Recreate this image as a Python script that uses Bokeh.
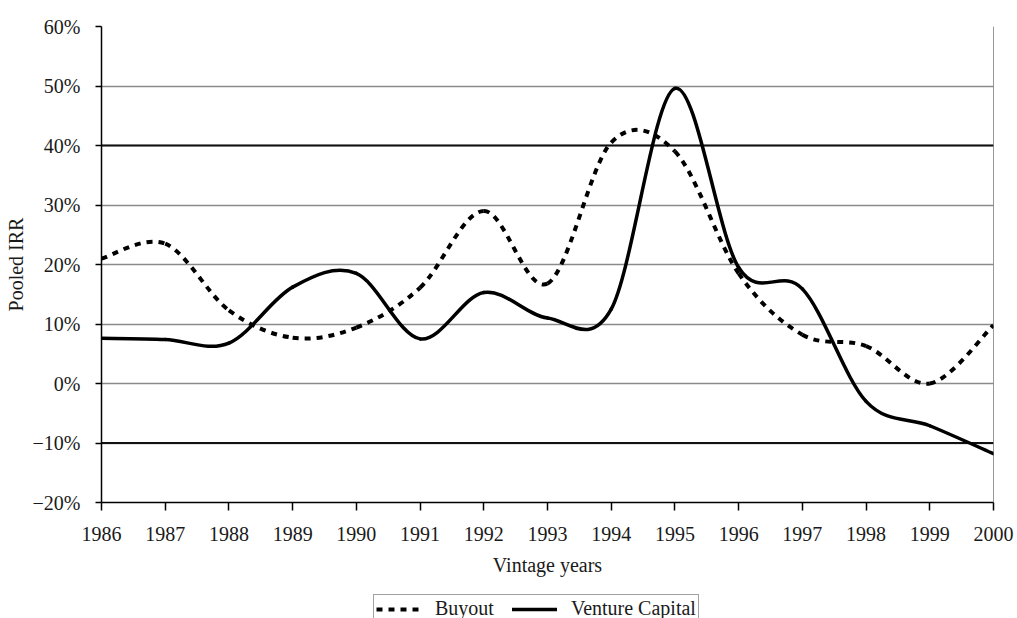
import numpy as np
from bokeh.plotting import figure
from bokeh.layouts import column
from bokeh.models import (FixedTicker, CustomJSTickFormatter, Span, Legend, LegendItem,
                          Range1d, ColumnDataSource)
from bokeh.embed import file_html
from bokeh.resources import INLINE

# ---- data (pooled IRR, %) ----
years = [1986, 1987, 1988, 1989, 1990, 1991, 1992, 1993, 1994, 1995, 1996, 1997, 1998, 1999, 2000]
buyout = [21.0, 23.5, 12.3, 7.7, 9.4, 16.1, 29.0, 16.8, 40.5, 39.0, 18.5, 8.2, 6.3, 0.0, 9.8]
venture = [7.6, 7.4, 6.8, 16.2, 18.5, 7.5, 15.3, 11.0, 12.5, 49.6, 19.5, 15.9, -3.0, -7.1, -11.8]
x_ticks = years
y_ticks = [-20, -10, 0, 10, 20, 30, 40, 50, 60]
series_names = ["Buyout", "Venture Capital"]


def smooth_segments(xs, ys):
    """Cubic Bezier control points (Catmull-Rom, as in spreadsheet 'smoothed line')."""
    xs = np.asarray(xs, float)
    ys = np.asarray(ys, float)
    n = len(xs)
    xp = np.concatenate([[xs[0]], xs, [xs[-1]]])
    yp = np.concatenate([[ys[0]], ys, [ys[-1]]])
    return dict(
        x0=xs[:-1], y0=ys[:-1], x1=xs[1:], y1=ys[1:],
        cx0=xs[:-1] + (xp[2:n + 1] - xp[0:n - 1]) / 6.0,
        cy0=ys[:-1] + (yp[2:n + 1] - yp[0:n - 1]) / 6.0,
        cx1=xs[1:] - (xp[3:n + 2] - xp[1:n]) / 6.0,
        cy1=ys[1:] - (yp[3:n + 2] - yp[1:n]) / 6.0,
    )


FONT = "Liberation Serif"
TXT = "#1a1a1a"
BUYOUT_STYLE = dict(line_color="black", line_width=4, line_dash="6 6", line_cap="butt")
VC_STYLE = dict(line_color="black", line_width=3.5, line_cap="round")

p = figure(width=1017, height=590, output_backend="svg", toolbar_location=None,
           x_range=Range1d(1986, 2000), y_range=Range1d(-20, 60),
           min_border_left=101, min_border_right=24, min_border_top=26, min_border_bottom=88)
p.outline_line_color = None
p.background_fill_color = "white"
p.border_fill_color = "white"

# grid
p.xgrid.grid_line_color = None
p.ygrid.ticker = FixedTicker(ticks=y_ticks)
p.ygrid.grid_line_color = "#8a8a8a"
p.ygrid.grid_line_width = 1.5
for v in (40, -10):
    p.add_layout(Span(location=v, dimension="width", line_color="#111111",
                      line_width=2, level="underlay"))
p.add_layout(Span(location=2000, dimension="height", line_color="#333333",
                  line_width=1, level="underlay"))

# axes
p.xaxis.ticker = FixedTicker(ticks=x_ticks)
p.yaxis.ticker = FixedTicker(ticks=y_ticks)
p.yaxis.formatter = CustomJSTickFormatter(
    code="return (tick < 0 ? '\u2212' : '') + Math.abs(tick) + '%';")
for ax in (p.xaxis[0], p.yaxis[0]):
    ax.axis_line_color = "black"
    ax.axis_line_width = 1.5
    ax.major_tick_line_color = "black"
    ax.major_tick_line_width = 1.5
    ax.major_tick_in = 0
    ax.minor_tick_line_color = None
    ax.major_label_text_font = FONT
    ax.major_label_text_font_size = "20px"
    ax.major_label_text_color = TXT
    ax.axis_label_text_font = FONT
    ax.axis_label_text_font_size = "20px"
    ax.axis_label_text_font_style = "normal"
    ax.axis_label_text_color = TXT
p.xaxis.major_tick_out = 8
p.xaxis.major_label_standoff = 16
p.xaxis.axis_label = "Vintage years"
p.xaxis.axis_label_standoff = 10
p.yaxis.major_tick_out = 6
p.yaxis.major_label_standoff = 15
p.yaxis.axis_label = "Pooled IRR"
p.yaxis.axis_label_standoff = 3

# series
src_b = ColumnDataSource(smooth_segments(years, buyout))
src_v = ColumnDataSource(smooth_segments(years, venture))
p.bezier(x0="x0", y0="y0", x1="x1", y1="y1", cx0="cx0", cy0="cy0",
         cx1="cx1", cy1="cy1", source=src_b, **BUYOUT_STYLE)
p.bezier(x0="x0", y0="y0", x1="x1", y1="y1", cx0="cx0", cy0="cy0",
         cx1="cx1", cy1="cy1", source=src_v, **VC_STYLE)

# ---- legend strip below the chart (series drawn again, out of its view) ----
lg = figure(width=1017, height=28, output_backend="svg", toolbar_location=None,
            x_range=Range1d(0, 1), y_range=Range1d(0, 1),
            x_axis_type=None, y_axis_type=None,
            min_border_left=0, min_border_right=0, min_border_top=0, min_border_bottom=0)
lg.outline_line_color = None
lg.border_fill_color = "white"
lr_b = lg.line(x=years, y=buyout, **BUYOUT_STYLE)
lr_v = lg.line(x=years, y=venture, **VC_STYLE)
legend = Legend(items=[LegendItem(label=series_names[0], renderers=[lr_b]),
                       LegendItem(label=series_names[1], renderers=[lr_v])],
                location=(272, -5), orientation="horizontal",
                label_text_font=FONT, label_text_font_size="20px",
                label_text_color=TXT, glyph_width=45, glyph_height=20,
                label_height=20, label_standoff=14, spacing=18, padding=2, margin=0,
                border_line_color="#444444", border_line_width=1.5,
                background_fill_alpha=1.0)
lg.add_layout(legend)

page = column(p, lg, spacing=0)
open("out.html", "w").write(file_html(page, INLINE))
